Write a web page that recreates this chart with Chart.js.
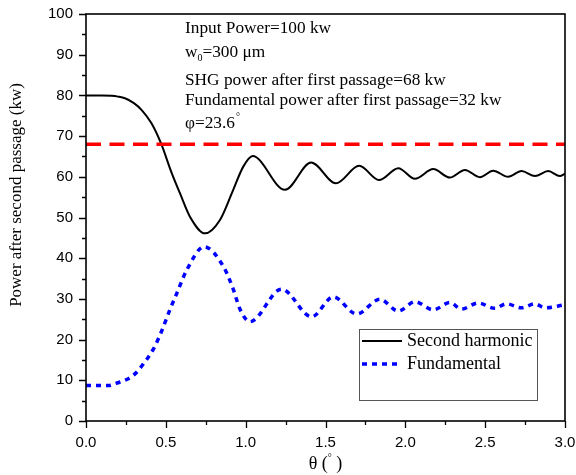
<!DOCTYPE html>
<html>
<head>
<meta charset="utf-8">
<script src="https://cdn.jsdelivr.net/npm/chart.js@4.4.1/dist/chart.umd.min.js"></script>
<style>
html,body{margin:0;padding:0;background:#fff;}
canvas{display:block;}
</style>
</head>
<body>
<canvas id="c" width="576" height="475"></canvas>
<script>
// ---- data ----
const shTheta = [0, 0.1, 0.16, 0.2, 0.244, 0.3, 0.349, 0.411, 0.47, 0.537, 0.589, 0.651, 0.745, 0.839, 0.922, 0.985, 1.044, 1.246, 1.41, 1.565, 1.711, 1.835, 1.956, 2.06, 2.175, 2.279, 2.373, 2.467, 2.55, 2.644, 2.728, 2.812, 2.895, 2.968, 3.0];
const shPower = [80, 80, 79.9, 79.7, 79.3, 78.1, 76.4, 73.1, 68.2, 60.9, 55.9, 50.2, 46.1, 49.4, 56.8, 62.5, 65.1, 56.8, 63.5, 58.4, 62.7, 59.2, 62.1, 59.5, 61.9, 59.8, 61.7, 59.9, 61.5, 60.0, 61.4, 60.2, 61.4, 60.2, 60.8];
const fTheta = [0, 0.14, 0.2, 0.265, 0.31, 0.349, 0.421, 0.474, 0.526, 0.568, 0.63, 0.74, 0.86, 0.922, 0.964, 1.027, 1.225, 1.413, 1.549, 1.695, 1.841, 1.956, 2.06, 2.175, 2.279, 2.352, 2.456, 2.561, 2.634, 2.728, 2.812, 2.874, 3.0];
const fPower = [8.7, 8.7, 9.4, 10.4, 11.7, 13.5, 17.6, 22.1, 27.4, 31.3, 37.0, 42.8, 38.0, 32.4, 27.5, 24.4, 32.4, 25.6, 30.5, 26.3, 29.9, 27.0, 29.3, 27.3, 29.1, 27.5, 29.0, 27.7, 28.8, 27.8, 28.8, 27.8, 28.6];
const refTheta = [0, 3];
const refPower = [68, 68];
const seriesNames = ['Second harmonic', 'Fundamental'];
const yMajor = [0, 10, 20, 30, 40, 50, 60, 70, 80, 90, 100];
const yMinor = [5, 15, 25, 35, 45, 55, 65, 75, 85, 95];
const xMajor = [0, 0.5, 1.0, 1.5, 2.0, 2.5, 3.0];
const xMinor = [0.25, 0.75, 1.25, 1.75, 2.25, 2.75];
const yTitle = 'Power after second passage (kw)';
const notes = ['Input Power=100 kw', 'SHG power after first passage=68 kw', 'Fundamental power after first passage=32 kw'];

const toXY = (xs, ys) => xs.map((x, i) => ({x: x, y: ys[i]}));
const SERIF = '"Liberation Serif", "Times New Roman", serif';
const SANS = '"Liberation Sans", Arial, sans-serif';

const decor = {
  id: 'decor',
  afterDraw(chart) {
    const ctx = chart.ctx;
    const a = chart.chartArea;
    const xs = chart.scales.x, ys = chart.scales.y;
    ctx.save();
    // frame
    ctx.strokeStyle = '#000';
    ctx.lineWidth = 1.6;
    ctx.strokeRect(a.left, a.top, a.right - a.left, a.bottom - a.top);
    // ticks
    ctx.lineWidth = 1.3;
    ctx.beginPath();
    yMajor.forEach(v => { const p = Math.round(ys.getPixelForValue(v)) + 0.5; ctx.moveTo(a.left - 7, p); ctx.lineTo(a.left, p); });
    yMinor.forEach(v => { const p = Math.round(ys.getPixelForValue(v)) + 0.5; ctx.moveTo(a.left - 4, p); ctx.lineTo(a.left, p); });
    xMajor.forEach(v => { const p = Math.round(xs.getPixelForValue(v)) + 0.5; ctx.moveTo(p, a.bottom); ctx.lineTo(p, a.bottom + 7); });
    xMinor.forEach(v => { const p = Math.round(xs.getPixelForValue(v)) + 0.5; ctx.moveTo(p, a.bottom); ctx.lineTo(p, a.bottom + 4); });
    ctx.stroke();

    // axis titles
    ctx.fillStyle = '#000';
    ctx.font = '17px ' + SERIF;
    ctx.textAlign = 'center';
    ctx.textBaseline = 'middle';
    ctx.save();
    ctx.translate(17, 195);
    ctx.rotate(-Math.PI / 2);
    ctx.fillText(yTitle, 0, 0);
    ctx.restore();
    // x title: θ (° )
    const cx = (a.left + a.right) / 2;
    ctx.font = '18px ' + SERIF;
    ctx.textAlign = 'left';
    ctx.textBaseline = 'alphabetic';
    const part1 = 'θ (', part3 = ' )';
    const w1 = ctx.measureText(part1).width;
    ctx.font = '10px ' + SERIF;
    const w2 = ctx.measureText('°').width;
    ctx.font = '18px ' + SERIF;
    const w3 = ctx.measureText(part3).width;
    let sx = cx - (w1 + w2 + w3) / 2;
    const by = 469;
    ctx.fillText(part1, sx, by);
    ctx.font = '10px ' + SERIF;
    ctx.fillText('°', sx + w1, by - 8);
    ctx.font = '18px ' + SERIF;
    ctx.fillText(part3, sx + w1 + w2, by);

    // annotations
    const tx = 185;
    const F = '17.3px ' + SERIF;
    ctx.font = F;
    ctx.fillText(notes[0], tx, 33);
    // w0=300 μm
    ctx.fillText('w', tx, 57);
    let ww = ctx.measureText('w').width;
    ctx.font = '10px ' + SERIF;
    ctx.fillText('0', tx + ww, 61);
    let w0 = ctx.measureText('0').width;
    ctx.font = F;
    ctx.fillText('=300 μm', tx + ww + w0, 57);
    ctx.fillText(notes[1], tx, 85);
    ctx.fillText(notes[2], tx, 105);
    ctx.fillText('φ=23.6', tx, 128);
    const wp = ctx.measureText('φ=23.6').width;
    ctx.font = '10px ' + SERIF;
    ctx.fillText('°', tx + wp + 1, 120);

    // legend
    ctx.strokeStyle = '#555';
    ctx.lineWidth = 1;
    ctx.strokeRect(359.5, 329.5, 178, 71);
    ctx.strokeStyle = '#000';
    ctx.lineWidth = 2;
    ctx.beginPath(); ctx.moveTo(362, 341); ctx.lineTo(402, 341); ctx.stroke();
    ctx.strokeStyle = '#0000ff';
    ctx.lineWidth = 3.5;
    ctx.setLineDash([5, 5]);
    ctx.beginPath(); ctx.moveTo(362, 364); ctx.lineTo(402, 364); ctx.stroke();
    ctx.setLineDash([]);
    ctx.fillStyle = '#000';
    ctx.font = '18px ' + SERIF;
    ctx.textBaseline = 'middle';
    ctx.fillText(seriesNames[0], 407, 341);
    ctx.fillText(seriesNames[1], 407, 364);
    ctx.restore();
  }
};

new Chart(document.getElementById('c'), {
  type: 'line',
  data: {
    datasets: [
      {label: 'ref', data: toXY(refTheta, refPower), borderColor: '#ff0000', borderWidth: 3.5, borderDash: [15, 8.5], pointRadius: 0, tension: 0},
      {label: seriesNames[0], data: toXY(shTheta, shPower), borderColor: '#000', borderWidth: 2, pointRadius: 0, cubicInterpolationMode: 'monotone'},
      {label: seriesNames[1], data: toXY(fTheta, fPower), borderColor: '#0000ff', borderWidth: 3.5, borderDash: [5, 5], pointRadius: 0, cubicInterpolationMode: 'monotone'}
    ]
  },
  options: {
    responsive: false,
    devicePixelRatio: 1,
    animation: false,
    layout: {padding: {top: 14, right: 11, left: 0, bottom: 0}},
    plugins: {legend: {display: false}, tooltip: {enabled: false}},
    scales: {
      x: {
        type: 'linear', min: 0, max: 3,
        grid: {display: false}, border: {display: false},
        afterFit: s => { s.height = 54; s.paddingLeft = 0; s.paddingRight = 0; },
        afterBuildTicks: s => { s.ticks = xMajor.map(v => ({value: v})); },
        ticks: {color: '#000', font: {family: SANS, size: 15}, padding: 5, maxRotation: 0, callback: v => Number(v).toFixed(1)}
      },
      y: {
        min: 0, max: 100,
        grid: {display: false}, border: {display: false},
        afterFit: s => { s.width = 86; s.paddingTop = 0; s.paddingBottom = 0; },
        afterBuildTicks: s => { s.ticks = yMajor.map(v => ({value: v})); },
        ticks: {color: '#000', font: {family: SANS, size: 15}, padding: 5, callback: v => String(v)}
      }
    }
  },
  plugins: [decor]
});
</script>
</body>
</html>
